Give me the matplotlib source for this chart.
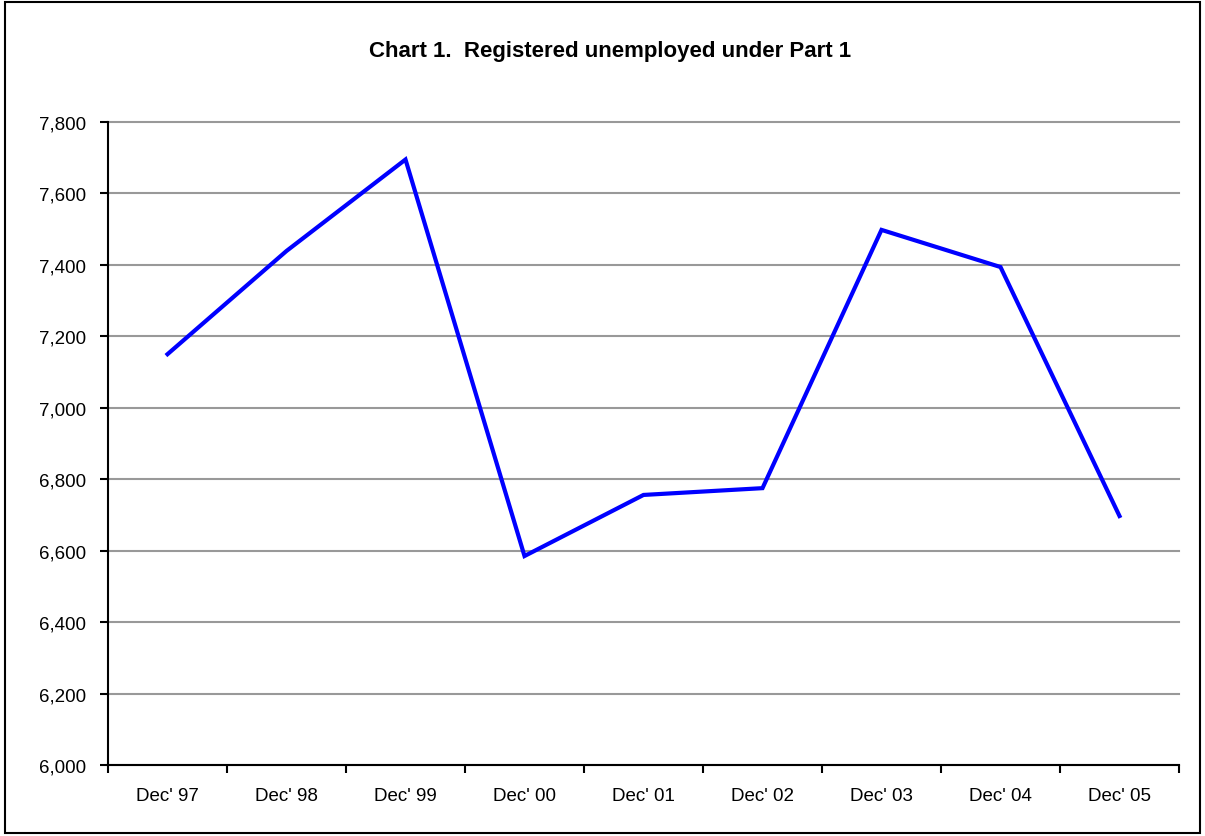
import matplotlib
matplotlib.use("Agg")
import matplotlib.pyplot as plt
from matplotlib.patches import Rectangle
from matplotlib.ticker import FuncFormatter, FixedLocator

plt.rcParams['font.family'] = ['Liberation Sans', 'DejaVu Sans']

# data
labels = ["Dec' 97", "Dec' 98", "Dec' 99", "Dec' 00", "Dec' 01",
          "Dec' 02", "Dec' 03", "Dec' 04", "Dec' 05"]
unemployed = [7150, 7439, 7695, 6585, 6756, 6775, 7498, 7394, 6697]
y_ticks = list(range(6000, 7801, 200))

fig = plt.figure(figsize=(12.05, 8.37), dpi=100)
ax = fig.add_axes([108 / 1205, 1 - 766 / 837, (1179 - 108) / 1205, (766 - 123) / 837])

x = list(range(len(labels)))
ax.plot(x, unemployed, color='#0000ff', linewidth=3, solid_joinstyle='miter', zorder=3)

ax.set_xlim(-0.5, len(labels) - 0.5)
ax.set_ylim(6000, 7800)
ax.set_yticks(y_ticks)
ax.yaxis.set_major_formatter(FuncFormatter(lambda v, p: f"{int(v):,}"))
ax.grid(axis='y', color='#999999', linewidth=1.5, zorder=1)
for gl in ax.get_ygridlines():
    gl.set_clip_on(False)

ax.set_xticks(x)
ax.set_xticklabels(labels)
ax.xaxis.set_minor_locator(FixedLocator([i - 0.5 for i in range(len(labels) + 1)]))
ax.tick_params(axis='x', which='major', length=0, pad=16, labelsize=13.5)
ax.tick_params(axis='x', which='minor', length=6, width=1.5, direction='out')
ax.tick_params(axis='y', length=6, width=1.5, direction='out', labelsize=13.5, pad=10)

for s in ['top', 'right']:
    ax.spines[s].set_visible(False)
for s in ['left', 'bottom']:
    ax.spines[s].set_linewidth(1.5)
    ax.spines[s].set_color('black')

fig.text(0.506, 1 - 52 / 837, "Chart 1.  Registered unemployed under Part 1",
         ha='center', va='center', fontsize=16, fontweight='bold')

fig.patches.append(Rectangle((0.004, 0.004), 0.992, 0.992, transform=fig.transFigure,
                             fill=False, edgecolor='black', linewidth=1.5))

fig.savefig('out.png', dpi=100, facecolor='white')
